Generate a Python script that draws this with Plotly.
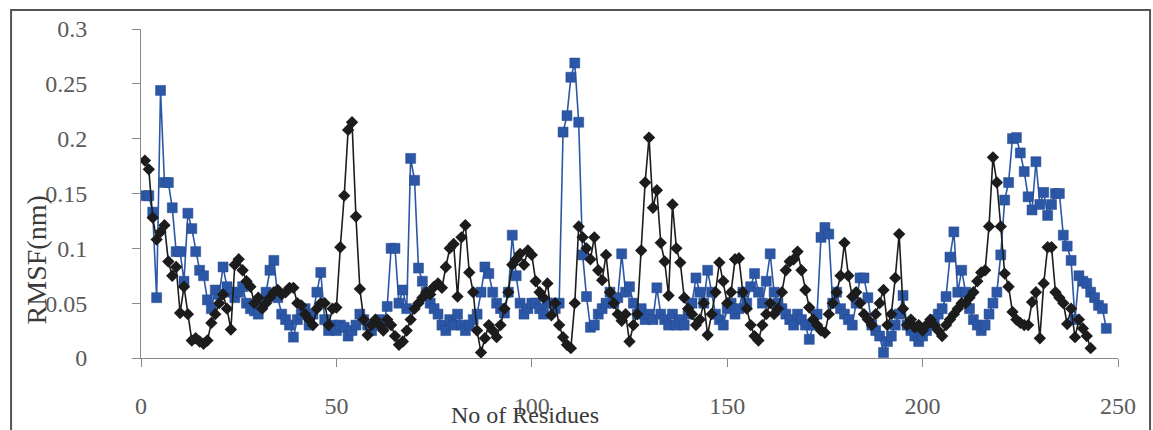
import plotly.graph_objects as go

# ---- data ----
black_rmsf = [
    0.180, 0.172, 0.128, 0.108, 0.115, 0.121, 0.088, 0.075, 0.083, 0.041,
    0.065, 0.040, 0.016, 0.018, 0.015, 0.013, 0.016, 0.032, 0.040, 0.050,
    0.058, 0.045, 0.026, 0.085, 0.090, 0.080, 0.070, 0.065, 0.050, 0.055,
    0.045, 0.050, 0.055, 0.060, 0.062, 0.058, 0.060, 0.064, 0.064, 0.050,
    0.048, 0.040, 0.035, 0.030, 0.045, 0.050, 0.050, 0.030, 0.045, 0.046,
    0.101, 0.148, 0.208, 0.215, 0.129, 0.063, 0.035, 0.021, 0.030, 0.035,
    0.030, 0.025, 0.035, 0.030, 0.020, 0.012, 0.015, 0.025, 0.035, 0.045,
    0.050, 0.055, 0.060, 0.058, 0.065, 0.068, 0.064, 0.083, 0.100, 0.104,
    0.056, 0.110, 0.121, 0.078, 0.060, 0.025, 0.005, 0.018, 0.030, 0.025,
    0.019, 0.030, 0.045, 0.060, 0.085, 0.090, 0.095, 0.085, 0.098, 0.094,
    0.070, 0.060, 0.055, 0.068, 0.039, 0.050, 0.030, 0.019, 0.012, 0.009,
    0.050, 0.120, 0.110, 0.100, 0.090, 0.110, 0.080, 0.071, 0.094, 0.060,
    0.050, 0.040, 0.034, 0.040, 0.015, 0.030, 0.040, 0.098, 0.160, 0.201,
    0.137, 0.153, 0.105, 0.088, 0.057, 0.140, 0.100, 0.087, 0.055, 0.045,
    0.040, 0.030, 0.035, 0.050, 0.021, 0.040, 0.060, 0.087, 0.070, 0.050,
    0.060, 0.090, 0.091, 0.060, 0.045, 0.030, 0.020, 0.016, 0.030, 0.040,
    0.050, 0.040, 0.045, 0.060, 0.080, 0.088, 0.090, 0.097, 0.080, 0.062,
    0.046, 0.035, 0.030, 0.025, 0.023, 0.040, 0.050, 0.060, 0.075, 0.105,
    0.075, 0.056, 0.060, 0.050, 0.040, 0.035, 0.030, 0.040, 0.050, 0.062,
    0.030, 0.040, 0.073, 0.113, 0.045, 0.030, 0.035, 0.028, 0.030, 0.025,
    0.030, 0.035, 0.030, 0.025, 0.020, 0.030, 0.035, 0.040, 0.045, 0.050,
    0.050, 0.055, 0.060, 0.070, 0.078, 0.080, 0.120, 0.183, 0.160, 0.120,
    0.077, 0.065, 0.042, 0.035, 0.032, 0.030, 0.030, 0.051, 0.060, 0.018,
    0.068, 0.101, 0.101, 0.060, 0.055, 0.050, 0.031, 0.045, 0.019, 0.035,
    0.027, 0.020, 0.009,
]

blue_rmsf = [
    0.148, 0.148, 0.133, 0.055, 0.244, 0.160, 0.160, 0.137, 0.097, 0.097,
    0.070, 0.132, 0.118, 0.097, 0.080, 0.075, 0.053, 0.045, 0.062, 0.058,
    0.083, 0.065, 0.060, 0.055, 0.060, 0.065, 0.050, 0.045, 0.043, 0.040,
    0.050, 0.060, 0.080, 0.089, 0.055, 0.040, 0.035, 0.030, 0.019, 0.035,
    0.040, 0.045, 0.030, 0.040, 0.060, 0.078, 0.035, 0.025, 0.030, 0.025,
    0.030, 0.028, 0.020, 0.025, 0.030, 0.040, 0.035, 0.030, 0.025, 0.030,
    0.035, 0.030, 0.047, 0.100, 0.100, 0.050, 0.062, 0.045, 0.182, 0.162,
    0.082, 0.070, 0.060, 0.050, 0.045, 0.040, 0.030, 0.025, 0.035, 0.030,
    0.040, 0.030, 0.025, 0.030, 0.035, 0.040, 0.060, 0.083, 0.077, 0.060,
    0.050, 0.045, 0.041, 0.060, 0.112, 0.075, 0.050, 0.040, 0.045, 0.050,
    0.050, 0.045, 0.040, 0.050, 0.050, 0.045, 0.050, 0.206, 0.221, 0.256,
    0.269, 0.215, 0.094, 0.056, 0.028, 0.030, 0.040, 0.045, 0.050, 0.060,
    0.050, 0.055, 0.095, 0.060, 0.065, 0.050, 0.040, 0.045, 0.035, 0.040,
    0.035, 0.064, 0.040, 0.035, 0.030, 0.040, 0.030, 0.035, 0.030, 0.040,
    0.050, 0.073, 0.060, 0.050, 0.080, 0.060, 0.040, 0.035, 0.030, 0.045,
    0.050, 0.040, 0.045, 0.060, 0.050, 0.065, 0.077, 0.060, 0.050, 0.070,
    0.095, 0.060, 0.050, 0.045, 0.040, 0.035, 0.030, 0.040, 0.035, 0.030,
    0.017, 0.030, 0.040, 0.110, 0.119, 0.113, 0.050, 0.060, 0.045, 0.040,
    0.035, 0.030, 0.050, 0.073, 0.073, 0.055, 0.030, 0.025, 0.020, 0.005,
    0.015, 0.020, 0.030, 0.040, 0.057, 0.030, 0.025, 0.020, 0.015, 0.020,
    0.025, 0.030, 0.035, 0.040, 0.045, 0.056, 0.092, 0.115, 0.060, 0.080,
    0.060, 0.045, 0.035, 0.030, 0.025, 0.030, 0.040, 0.050, 0.060, 0.094,
    0.144, 0.160, 0.200, 0.201, 0.187, 0.170, 0.147, 0.135, 0.179, 0.140,
    0.151, 0.130, 0.140, 0.150, 0.150, 0.112, 0.102, 0.089, 0.035, 0.075,
    0.070, 0.068, 0.060, 0.055, 0.048, 0.045, 0.027,
]

black_residues = list(range(1, len(black_rmsf) + 1))
blue_residues = list(range(1, len(blue_rmsf) + 1))

x_ticks = [0, 50, 100, 150, 200, 250]
y_ticks = [0, 0.05, 0.1, 0.15, 0.2, 0.25, 0.3]
y_tick_text = ["0", "0.05", "0.1", "0.15", "0.2", "0.25", "0.3"]

FONT = "Liberation Serif"

fig = go.Figure()

fig.add_trace(go.Scatter(
    x=blue_residues, y=blue_rmsf, mode="lines+markers",
    line=dict(color="#2b57a6", width=1.6),
    marker=dict(symbol="square", size=10, color="#2b57a6",
                line=dict(color="#24498c", width=0.5)),
    showlegend=False,
))
fig.add_trace(go.Scatter(
    x=black_residues, y=black_rmsf, mode="lines+markers",
    line=dict(color="#1c1c1c", width=1.6),
    marker=dict(symbol="diamond", size=9.5, color="#1c1c1c"),
    showlegend=False,
))

fig.update_layout(
    width=1153, height=430,
    margin=dict(l=141, r=35, t=29, b=72),
    paper_bgcolor="white", plot_bgcolor="white",
    font=dict(family=FONT, size=24, color="#555555"),
    xaxis=dict(
        range=[0, 250], tickvals=x_ticks, showgrid=False, zeroline=False,
        showline=True, linecolor="#8a8a8a", linewidth=1,
        ticks="outside", ticklen=8, tickcolor="#8a8a8a",
        ticklabelstandoff=18,
        tickfont=dict(family=FONT, size=24, color="#5a5a5a"),
    ),
    yaxis=dict(
        range=[0, 0.3], tickvals=y_ticks, ticktext=y_tick_text,
        showgrid=False, zeroline=False,
        showline=True, linecolor="#8a8a8a", linewidth=1,
        ticks="outside", ticklen=8, tickcolor="#8a8a8a",
        ticklabelstandoff=40,
        tickfont=dict(family=FONT, size=24, color="#5a5a5a"),
    ),
    shapes=[dict(
        type="rect", xref="paper", yref="paper",
        x0=-0.1330, x1=1.0328, y0=-0.2600, y1=1.0578,
        line=dict(color="#555555", width=2), fillcolor="rgba(0,0,0,0)",
        layer="below",
    )],
    annotations=[
        dict(text="No of Residues", xref="paper", yref="paper",
             x=0.393, y=-0.172, showarrow=False,
             xanchor="center", yanchor="middle",
             font=dict(family=FONT, size=24, color="#3a3a3a")),
        dict(text="RMSF(nm)", xref="paper", yref="paper",
             x=-0.106, y=0.298, textangle=-90, showarrow=False,
             xanchor="center", yanchor="middle",
             font=dict(family=FONT, size=28, color="#3a3a3a")),
    ],
)

fig.write_html("out.html")
